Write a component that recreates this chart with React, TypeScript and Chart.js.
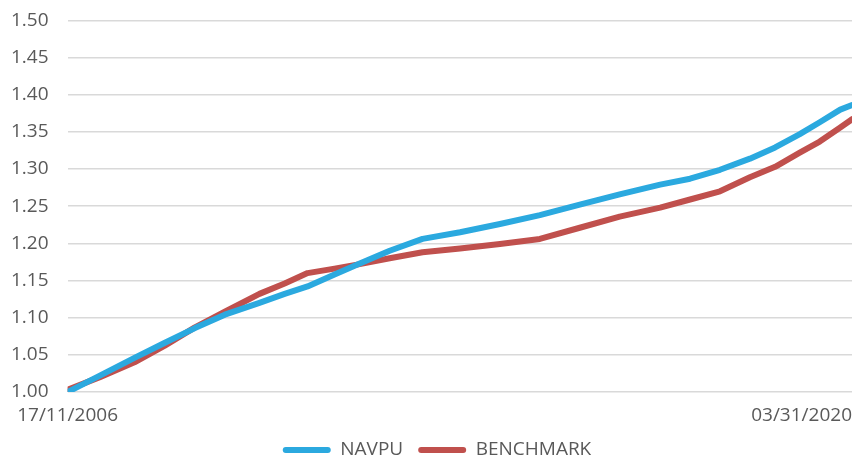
import React, { useEffect, useRef } from "react";
import { Chart, registerables } from "chart.js";

Chart.register(...registerables);

// Decimal-year positions of the readings
const years = [
  2006.88, 2007.43, 2008.02, 2008.53, 2009.05, 2009.56, 2010.15, 2010.58, 2010.97,
  2011.43, 2011.86, 2012.37, 2012.93, 2013.57, 2014.25, 2014.93, 2015.61, 2016.29,
  2016.98, 2017.49, 2018.0, 2018.51, 2018.94, 2019.36, 2019.7, 2020.05, 2020.25,
];

const navpu = [
  1.0, 1.022, 1.046, 1.066, 1.086, 1.104, 1.12, 1.132, 1.142, 1.158, 1.173, 1.19,
  1.206, 1.215, 1.226, 1.238, 1.252, 1.266, 1.279, 1.287, 1.299, 1.314, 1.329,
  1.347, 1.363, 1.38, 1.386,
];

const benchmark = [
  1.003, 1.02, 1.04, 1.062, 1.087, 1.108, 1.132, 1.146, 1.16, 1.166, 1.172, 1.18,
  1.188, 1.193, 1.199, 1.206, 1.221, 1.236, 1.248, 1.259, 1.27, 1.289, 1.303,
  1.322, 1.337, 1.356, 1.367,
];

const seriesNames = ["NAVPU", "BENCHMARK"];
const xTickLabels = ["17/11/2006", "03/31/2020"];
const yMin = 1.0;
const yMax = 1.5;
const yStep = 0.05;

const BLUE = "#2BA9DF";
const RED = "#C0504D";
const TEXT = "#595959";
const FONT = "'Open Sans', 'Liberation Sans', sans-serif";

// Nudges the centred legend row slightly to the right, as in the original.
const legendShift = {
  id: "legendShift",
  afterLayout(chart: any) {
    const lg = chart.legend;
    if (lg) {
      lg.left += 10;
      lg.right += 10;
    }
  },
};

export default function App() {
  const ref = useRef<HTMLCanvasElement | null>(null);

  useEffect(() => {
    if (!ref.current) return;
    const toPts = (vals: number[]) => vals.map((v, i) => ({ x: years[i], y: v }));
    const chart = new Chart(ref.current, {
      type: "line",
      data: {
        datasets: [
          {
            label: seriesNames[0],
            data: toPts(navpu),
            borderColor: BLUE,
            backgroundColor: BLUE,
            borderWidth: 6,
            pointRadius: 0,
            tension: 0,
            borderCapStyle: "round",
            borderJoinStyle: "round",
          },
          {
            label: seriesNames[1],
            data: toPts(benchmark),
            borderColor: RED,
            backgroundColor: RED,
            borderWidth: 6,
            pointRadius: 0,
            tension: 0,
            borderCapStyle: "round",
            borderJoinStyle: "round",
          },
        ],
      },
      plugins: [legendShift],
      options: {
        animation: false,
        responsive: true,
        maintainAspectRatio: false,
        layout: { padding: { left: 2, right: 2, top: 0, bottom: 0 } },
        plugins: {
          tooltip: { enabled: false },
          legend: {
            position: "bottom",
            maxHeight: 31.5,
            labels: {
              boxWidth: 48,
              boxHeight: 6,
              useBorderRadius: true,
              borderRadius: 3,
              color: TEXT,
              font: { family: FONT, size: 19 },
              padding: 15,
              generateLabels: (c: any) =>
                c.data.datasets.map((d: any, i: number) => ({
                  text: d.label,
                  fillStyle: d.borderColor,
                  strokeStyle: d.borderColor,
                  lineWidth: 0,
                  fontColor: TEXT,
                  datasetIndex: i,
                  borderRadius: 3,
                })),
            },
          },
        },
        scales: {
          x: {
            type: "linear",
            min: years[0],
            max: years[years.length - 1],
            grid: { display: false, drawTicks: true, tickLength: 14.5 },
            border: { display: false },
            afterBuildTicks: (scale: any) => {
              scale.ticks = [
                { value: years[0] },
                { value: years[0] },
                { value: years[years.length - 1] },
              ];
            },
            ticks: {
              autoSkip: false,
              maxRotation: 0,
              align: "inner",
              padding: 0,
              color: TEXT,
              font: { family: FONT, size: 19, lineHeight: 1 },
              callback: (_v: any, i: number) => (i === 0 ? "" : xTickLabels[i - 1]),
            },
          },
          y: {
            min: yMin,
            max: yMax,
            grid: {
              color: "#D9D9D9",
              lineWidth: 1.5,
              drawTicks: true,
              tickLength: 10,
              tickColor: "rgba(0,0,0,0)",
            },
            border: { display: false },
            ticks: {
              stepSize: yStep,
              padding: 9,
              color: TEXT,
              font: { family: FONT, size: 19 },
              callback: (v: any) => Number(v).toFixed(2),
            },
          },
        },
      },
    });
    return () => chart.destroy();
  }, []);

  return (
    <div style={{ position: "absolute", left: 0, top: 0, width: 854, height: 457, background: "#fff" }}>
      <canvas ref={ref} />
    </div>
  );
}
